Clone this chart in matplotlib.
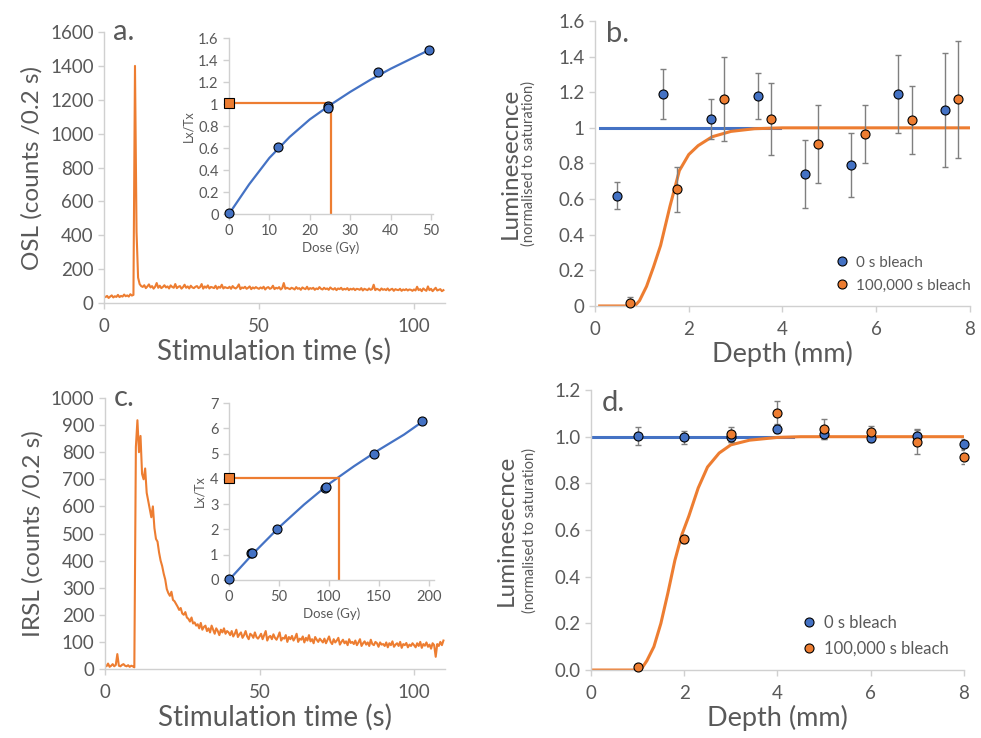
import matplotlib.pyplot as plt
import numpy as np
from matplotlib.ticker import FuncFormatter, MultipleLocator

plt.rcParams["font.family"] = ["Lato", "DejaVu Sans"]

BLUE = "#4472C4"
ORANGE = "#ED7D31"
GREY_TXT = "#595959"
GREY_AX = "#d0d0d0"
ERR = "#7f7f7f"

# ---- panel a: OSL decay (0.5 s channels)
osl_time = np.arange(0, 110, 0.5)
osl_counts = [
    40, 35, 42, 30, 38, 45, 33, 40, 36, 48, 35, 42, 38, 50, 40, 45, 38, 52, 44, 48,
    1400, 420, 150, 112, 100, 95, 105, 88, 98, 110, 92, 100, 85, 96, 118, 90, 102, 88, 95, 105,
    92, 98, 86, 104, 95, 90, 112, 88, 96, 100, 85, 94, 108, 90, 98, 86, 102, 92, 88, 96,
    100, 88, 94, 112, 85, 98, 90, 104, 86, 95, 92, 88, 102, 84, 96, 90, 108, 86, 94, 90,
    88, 96, 84, 100, 90, 86, 94, 110, 82, 92, 88, 96, 84, 90, 98, 82, 92, 86, 94, 88,
    84, 92, 86, 96, 80, 90, 94, 84, 88, 102, 82, 90, 86, 94, 80, 88, 118, 84, 90, 86,
    82, 90, 86, 80, 94, 84, 88, 78, 92, 86, 82, 96, 80, 88, 84, 90, 78, 86, 82, 94,
    84, 80, 90, 82, 86, 78, 92, 84, 80, 88, 76, 86, 82, 90, 78, 84, 80, 88, 76, 84,
    80, 86, 76, 84, 82, 78, 88, 74, 84, 80, 76, 86, 78, 82, 108, 76, 84, 80, 74, 86,
    78, 82, 76, 86, 74, 80, 84, 72, 82, 78, 76, 84, 72, 80, 76, 82, 74, 80, 78, 72,
    80, 74, 96, 76, 82, 70, 86, 78, 72, 98, 76, 84, 70, 80, 90, 74, 78, 82, 70, 76,
]

# ---- panel c: IRSL decay (0.5 s channels)
irsl_time = np.arange(0, 110, 0.5)
irsl_counts = [
    15, 10, 20, 8, 12, 18, 10, 15, 55, 12, 10, 15, 18, 12, 10, 14, 8, 12, 10, 6,
    820, 918, 800, 860, 720, 700, 740, 650, 620, 590, 560, 600, 520, 480, 470, 430, 400, 380, 352, 330,
    295, 280, 270, 285, 255, 250, 240, 230, 218, 225, 205, 200, 210, 190, 185, 175, 190, 168, 172, 160,
    165, 150, 170, 145, 155, 160, 140, 150, 135, 160, 145, 130, 150, 140, 125, 145, 135, 150, 130, 140,
    135, 125, 140, 120, 130, 145, 118, 128, 135, 115, 125, 140, 120, 110, 130, 125, 115, 135, 118, 112,
    120, 130, 110, 125, 140, 105, 118, 122, 110, 128, 115, 108, 120, 135, 105, 115, 112, 125, 100, 118,
    110, 122, 105, 115, 130, 100, 112, 108, 120, 98, 115, 105, 125, 102, 110, 95, 118, 108, 100, 112,
    105, 98, 112, 95, 108, 120, 100, 92, 110, 98, 105, 115, 90, 100, 108, 95, 102, 88, 110, 96,
    100, 92, 105, 88, 98, 110, 85, 95, 102, 90, 98, 85, 108, 92, 88, 100, 95, 82, 98, 90,
    92, 85, 98, 80, 95, 88, 102, 82, 90, 95, 85, 100, 78, 92, 88, 96, 80, 90, 85, 95,
    88, 80, 95, 85, 100, 78, 92, 86, 98, 82, 90, 75, 95, 88, 45, 92, 85, 100, 88, 105,
]

# ---- inset a: OSL dose response
osl_dose = [0, 12.2, 24.5, 24.5, 37, 49.5]
osl_lxtx = [0.01, 0.61, 0.98, 0.96, 1.29, 1.49]
osl_lxtx_err = [0.01, 0.02, 0.02, 0.02, 0.03, 0.03]
osl_fit_dose = [0, 5, 10, 15, 20, 25, 30, 35, 40, 45, 49.5]
osl_fit_lxtx = [0, 0.27, 0.51, 0.70, 0.86, 0.99, 1.11, 1.22, 1.32, 1.41, 1.49]
osl_natural = 1.01
osl_de = 25.2

# ---- inset c: IRSL dose response
irsl_dose = [0, 22, 23, 48, 96, 97, 145, 193]
irsl_lxtx = [0.05, 1.07, 1.05, 2.0, 3.62, 3.68, 5.0, 6.3]
irsl_fit_dose = [0, 25, 50, 75, 100, 125, 150, 175, 193]
irsl_fit_lxtx = [0, 1.08, 2.08, 2.98, 3.8, 4.5, 5.15, 5.75, 6.25]
irsl_natural = 4.05
irsl_de = 110.5

# ---- panel b: OSL depth profiles
b_depth_0 = [0.46, 1.46, 2.47, 3.47, 4.47, 5.46, 6.47, 7.47]
b_lum_0 = [0.62, 1.19, 1.05, 1.18, 0.74, 0.79, 1.19, 1.10]
b_err_0 = [0.075, 0.14, 0.11, 0.13, 0.19, 0.18, 0.22, 0.32]
b_depth_1 = [0.75, 1.75, 2.76, 3.75, 4.75, 5.76, 6.76, 7.75]
b_lum_1 = [0.015, 0.655, 1.16, 1.05, 0.91, 0.965, 1.045, 1.16]
b_err_1 = [0.035, 0.125, 0.235, 0.2, 0.22, 0.165, 0.19, 0.33]
b_fit0_depth = [0.1, 3.95]
b_fit0_lum = [1.0, 1.0]
b_fit1_depth = [0.1, 0.85, 0.95, 1.1, 1.25, 1.4, 1.6, 1.8, 2.0, 2.2, 2.5, 2.9, 3.4, 4.0, 8.0]
b_fit1_lum = [0, 0, 0.03, 0.11, 0.22, 0.34, 0.56, 0.76, 0.85, 0.9, 0.95, 0.98, 0.995, 1.0, 1.0]

# ---- panel d: IRSL depth profiles
d_depth = [1, 2, 3, 4, 5, 6, 7, 8]
d_lum_0 = [1.003, 0.997, 0.998, 1.034, 1.01, 0.993, 1.003, 0.969]
d_err_0 = [0.04, 0.027, 0.02, 0.02, 0.02, 0.015, 0.03, 0.02]
d_lum_1 = [0.014, 0.56, 1.011, 1.103, 1.032, 1.021, 0.977, 0.912]
d_err_1 = [0.005, 0.015, 0.032, 0.052, 0.044, 0.026, 0.05, 0.03]
d_fit0_depth = [0.04, 4.34]
d_fit0_lum = [1.0, 1.0]
d_fit1_depth = [0.04, 1.0, 1.1, 1.2, 1.35, 1.5, 1.65, 1.8, 1.95, 2.1, 2.3, 2.5, 2.75, 3.0, 3.4, 4.0, 4.5, 8.0]
d_fit1_lum = [0, 0, 0.01, 0.04, 0.1, 0.2, 0.33, 0.47, 0.58, 0.66, 0.78, 0.87, 0.93, 0.965, 0.985, 0.997, 1.0, 1.0]

general = FuncFormatter(lambda v, _: f"{v:g}")


def style_axes(ax, tick_size):
    for side in ("top", "right"):
        ax.spines[side].set_visible(False)
    for side in ("left", "bottom"):
        ax.spines[side].set_color(GREY_AX)
        ax.spines[side].set_linewidth(1.0)
    ax.tick_params(colors=GREY_AX, labelcolor=GREY_TXT, labelsize=tick_size,
                   length=4, width=1.0, direction="out")
    ax.patch.set_alpha(0)


def decay_panel(ax, t, counts, ymax, ystep, label, letter):
    ax.plot(t, counts, color=ORANGE, lw=1.5)
    ax.set_xlim(0, 110)
    ax.set_ylim(0, ymax)
    ax.xaxis.set_major_locator(MultipleLocator(50))
    ax.yaxis.set_major_locator(MultipleLocator(ystep))
    style_axes(ax, 13.5)
    ax.tick_params(axis="x", pad=7)
    ax.set_xlabel("Stimulation time (s)", fontsize=20, color=GREY_TXT, labelpad=2)
    ax.set_ylabel(label, fontsize=17.5, color=GREY_TXT)
    ax.yaxis.set_label_coords(-0.18, 0.5)
    ax.text(0.025, 1.0, letter, transform=ax.transAxes, fontsize=21,
            color=GREY_TXT, va="center", ha="left")


def inset_panel(ax, dose, lxtx, fit_d, fit_l, natural, de, xlim, ylim, xstep, ystep, err=None):
    ax.plot(fit_d, fit_l, color=BLUE, lw=1.6, zorder=2)
    ax.plot([0, de, de], [natural, natural, 0], color=ORANGE, lw=1.6, zorder=2)
    if err is not None:
        ax.errorbar(dose, lxtx, yerr=err, fmt="none", ecolor=ERR, elinewidth=0.8,
                    capsize=1.5, zorder=3)
    ax.plot(dose, lxtx, "o", ms=6.5, mfc=BLUE, mec="black", mew=0.8, zorder=4,
            clip_on=False)
    ax.plot([0], [natural], "s", ms=6.5, mfc=ORANGE, mec="black", mew=0.8, zorder=5,
            clip_on=False)
    ax.set_xlim(*xlim)
    ax.set_ylim(*ylim)
    ax.xaxis.set_major_locator(MultipleLocator(xstep))
    ax.yaxis.set_major_locator(MultipleLocator(ystep))
    ax.yaxis.set_major_formatter(general)
    style_axes(ax, 10.5)
    ax.set_xlabel("Dose (Gy)", fontsize=9.5, color=GREY_TXT, labelpad=2)
    ax.set_ylabel("Lx/Tx", fontsize=9, color=GREY_TXT, labelpad=3)


def depth_panel(ax, d0, l0, e0, d1, l1, e1, f0x, f0y, f1x, f1y, ymax, letter,
                fmt, leg_xy, leg_size, lab_x):
    ax.plot(f0x, f0y, color=BLUE, lw=2.2, zorder=2)
    ax.plot(f1x, f1y, color=ORANGE, lw=2.2, zorder=2)
    ax.errorbar(d0, l0, yerr=e0, fmt="none", ecolor=ERR, elinewidth=1.0, capsize=2.5, zorder=3)
    ax.errorbar(d1, l1, yerr=e1, fmt="none", ecolor=ERR, elinewidth=1.0, capsize=2.5, zorder=3)
    ax.plot(d0, l0, "o", ms=6.5, mfc=BLUE, mec="black", mew=0.8, zorder=4,
            label="0 s bleach", clip_on=False)
    ax.plot(d1, l1, "o", ms=6.5, mfc=ORANGE, mec="black", mew=0.8, zorder=4,
            label="100,000 s bleach", clip_on=False)
    ax.set_xlim(0, 8)
    ax.set_ylim(0, ymax)
    ax.xaxis.set_major_locator(MultipleLocator(2))
    ax.yaxis.set_major_locator(MultipleLocator(0.2))
    ax.yaxis.set_major_formatter(fmt)
    style_axes(ax, 13.5)
    ax.tick_params(axis="x", pad=7)
    ax.set_xlabel("Depth (mm)", fontsize=19.5, color=GREY_TXT, labelpad=2)
    ax.text(lab_x[0], 0.5, "Luminesecnce", transform=ax.transAxes, rotation=90,
            fontsize=17.5, color=GREY_TXT, ha="center", va="center")
    ax.text(lab_x[1], 0.5, "(normalised to saturation)", transform=ax.transAxes,
            rotation=90, fontsize=10.5, color=GREY_TXT, ha="center", va="center")
    ax.text(0.03, 0.955, letter, transform=ax.transAxes, fontsize=21,
            color=GREY_TXT, va="center", ha="left")
    leg = ax.legend(loc="upper left", bbox_to_anchor=leg_xy, frameon=False,
                    fontsize=leg_size, handletextpad=0.3, handlelength=1.2,
                    labelspacing=0.6, borderaxespad=0)
    for txt in leg.get_texts():
        txt.set_color(GREY_TXT)


fig = plt.figure(figsize=(9.81, 7.38), dpi=100)

ax_a = fig.add_axes([0.1060, 0.5894, 0.3476, 0.3672])
decay_panel(ax_a, osl_time, osl_counts, 1600, 200, "OSL (counts /0.2 s)", "a.")
ax_c = fig.add_axes([0.1070, 0.0935, 0.3466, 0.3672])
decay_panel(ax_c, irsl_time, irsl_counts, 1000, 100, "IRSL (counts /0.2 s)", "c.")

ins_a = fig.add_axes([0.2334, 0.7100, 0.2080, 0.2385])
inset_panel(ins_a, osl_dose, osl_lxtx, osl_fit_dose, osl_fit_lxtx, osl_natural, osl_de,
            (0, 50.5), (0, 1.6), 10, 0.2, err=osl_lxtx_err)
ins_c = fig.add_axes([0.2334, 0.2141, 0.2090, 0.2398])
inset_panel(ins_c, irsl_dose, irsl_lxtx, irsl_fit_dose, irsl_fit_lxtx, irsl_natural, irsl_de,
            (0, 205), (0, 7), 50, 1)

ax_b = fig.add_axes([0.6065, 0.5854, 0.3823, 0.3862])
depth_panel(ax_b, b_depth_0, b_lum_0, b_err_0, b_depth_1, b_lum_1, b_err_1,
            b_fit0_depth, b_fit0_lum, b_fit1_depth, b_fit1_lum, 1.6, "b.",
            general, (0.618, 0.198), 11, (-0.225, -0.176))
ax_d = fig.add_axes([0.6024, 0.0921, 0.3802, 0.3794])
depth_panel(ax_d, d_depth, d_lum_0, d_err_0, d_depth, d_lum_1, d_err_1,
            d_fit0_depth, d_fit0_lum, d_fit1_depth, d_fit1_lum, 1.2, "d.",
            FuncFormatter(lambda v, _: f"{v:.1f}"), (0.54, 0.22), 12, (-0.228, -0.164))

fig.savefig("out.png", dpi=100)
